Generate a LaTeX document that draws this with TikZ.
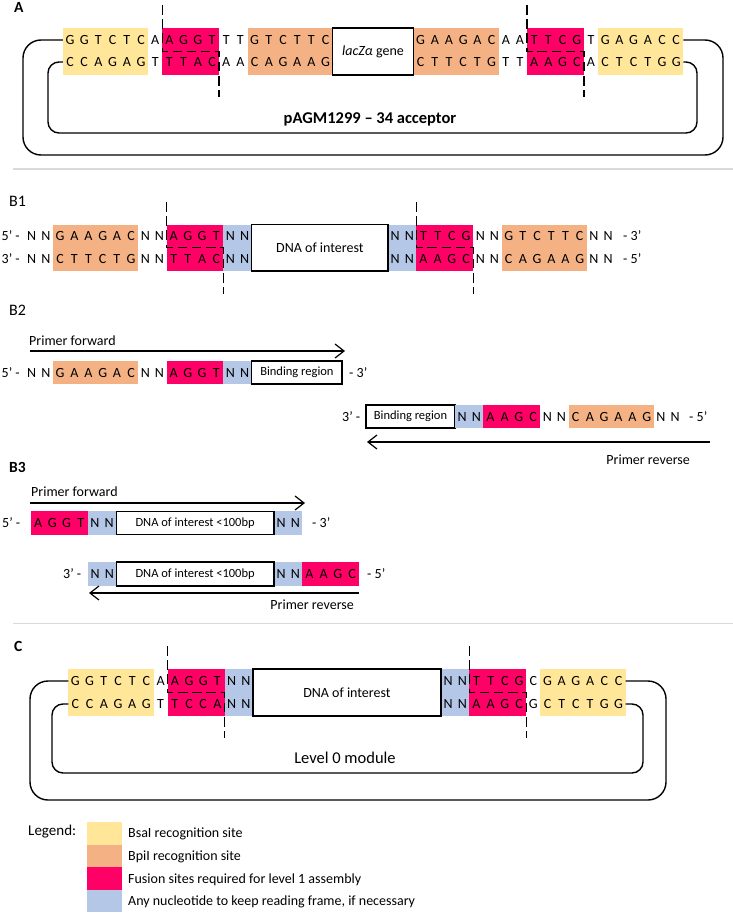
\documentclass[tikz,border=0pt]{standalone}
\usepackage{fontspec}
\setmainfont{Carlito}
\usetikzlibrary{arrows.meta}
\definecolor{yel}{HTML}{FFE699}
\definecolor{org}{HTML}{F4B183}
\definecolor{pnk}{HTML}{FF0066}
\definecolor{blu}{HTML}{B4C7E7}
\definecolor{sepgray}{HTML}{D9D9D9}
\newcommand\dnaP{14.2}
\newcommand\nucs[4]{%
  \foreach \nuc [count=\idx from 0] in {#4} {
    \node[nt] (#1\idx) at ({#2+\idx*\dnaP},#3) {\nuc};
  }}
\newcommand\cells[6]{%
  \fill[#1] ({#2+(#3-0.5)*\dnaP},#5) rectangle ({#2+(#4+0.5)*\dnaP},#6);}
\begin{document}
\begin{tikzpicture}[x=1pt,y=-1pt,
  nt/.style={inner sep=0pt,text height=9pt,text depth=0pt,font=\fontsize{14}{16}\selectfont},
  lbl/.style={nt,anchor=west},
  sec/.style={inner sep=0pt,anchor=west,text height=10.3pt,text depth=0pt,font=\fontsize{16}{18}\selectfont},
  secb/.style={sec,font=\bfseries\fontsize{15.5}{18}\selectfont},
  dnabox/.style={draw,line width=1.3pt,fill=white,inner sep=0pt,font=\fontsize{14}{16}\selectfont},
  smallbox/.style={dnabox,font=\fontsize{12.5}{14}\selectfont},
  cut/.style={line width=1.3pt,dash pattern=on 9.5pt off 4.7pt},
  loopline/.style={line width=1.4pt},
  parrow/.style={line width=1.2pt,-{Straight Barb[length=9pt,width=14pt]}},
  sep/.style={line width=1.8pt,color=sepgray},
  swatch/.style={inner sep=0pt,minimum width=35pt,minimum height=22.5pt},
  legtxt/.style={lbl},
]
\useasboundingbox (0,0) rectangle (733,913);

% ================= A =================
\node[secb] (labA) at (14,7.5) {A};
\cells{yel}{70}{0}{5}{28}{75}
\cells{pnk}{70}{7}{10}{28}{75}
\cells{org}{70}{13}{18}{28}{75}
\cells{org}{420.6}{0}{5}{28}{75}
\cells{pnk}{420.6}{8}{11}{28}{75}
\cells{yel}{420.6}{13}{18}{28}{75}
\node[dnabox,minimum width=81pt,minimum height=47pt] (lacz) at (373,51.5) {\textit{lacZα} gene};
\nucs{At}{70}{40}{G,G,T,C,T,C,A,A,G,G,T,T,T,G,T,C,T,T,C}
\nucs{Ab}{70}{62}{C,C,A,G,A,G,T,T,T,A,C,A,A,C,A,G,A,A,G}
\nucs{Art}{420.6}{40}{G,A,A,G,A,C,A,A,T,T,C,G,T,G,A,G,A,C,C}
\nucs{Arb}{420.6}{62}{C,T,T,C,T,G,T,T,A,A,G,C,A,C,T,C,T,G,G}
\draw[cut] (162.2,5) -- (162.2,51.5) -- (218.9,51.5) -- (218.9,97);
\draw[cut] (527.1,5) -- (527.1,51.5) -- (583.9,51.5) -- (583.9,97);
\coordinate (AoL) at (62.9,40); \coordinate (AoR) at (683.3,40);
\coordinate (AiL) at (62.9,62); \coordinate (AiR) at (683.3,62);
\draw[loopline,rounded corners=18pt] (AoL) -- (23,40) -- (23,155) -- (723,155) -- (723,40) -- (AoR);
\draw[loopline,rounded corners=11pt] (AiL) -- (48,62) -- (48,133) -- (697,133) -- (697,62) -- (AiR);
\node[font=\bfseries\fontsize{16.5}{19}\selectfont,inner sep=0pt,text height=10.6pt,text depth=0pt] (titleA) at (370,118) {pAGM1299 – 34 acceptor};
\draw[sep] (13,169) -- (733,169);

% ================= B1 =================
\node[sec] (labB1) at (9,201) {B1};
\cells{org}{31.7}{2}{7}{224.5}{271}
\cells{pnk}{31.7}{10}{13}{224.5}{271}
\cells{blu}{31.7}{14}{15}{224.5}{271}
\cells{blu}{395.1}{0}{1}{224.5}{271}
\cells{pnk}{395.1}{2}{5}{224.5}{271}
\cells{org}{395.1}{8}{13}{224.5}{271}
\node[dnabox,minimum width=136.2pt,minimum height=46.5pt] (doiB1) at (319.9,247.75) {DNA of interest};
\nucs{Bt}{31.7}{236}{N,N,G,A,A,G,A,C,N,N,A,G,G,T,N,N}
\nucs{Bb}{31.7}{259}{N,N,C,T,T,C,T,G,N,N,T,T,A,C,N,N}
\nucs{Brt}{395.1}{236}{N,N,T,T,C,G,N,N,G,T,C,T,T,C,N,N}
\nucs{Brb}{395.1}{259}{N,N,A,A,G,C,N,N,C,A,G,A,A,G,N,N}
\node[lbl] (B1a) at (1.5,236) {5’ -};
\node[lbl] (B1b) at (1.5,259) {3’ -};
\node[lbl] (B1c) at (623,236) {- 3’};
\node[lbl] (B1d) at (623,259) {- 5’};
\draw[cut] (166.6,202) -- (166.6,247.75) -- (223.4,247.75) -- (223.4,294);
\draw[cut] (416.4,202) -- (416.4,247.75) -- (473.2,247.75) -- (473.2,294);

% ================= B2 =================
\node[sec] (labB2) at (9,310) {B2};
\node[lbl] (pf2) at (29,341) {Primer forward};
\coordinate (pf2s) at (30,351); \coordinate (pf2e) at (345,351);
\draw[parrow] (pf2s) -- (pf2e);
\cells{org}{31.7}{2}{7}{361}{384}
\cells{pnk}{31.7}{10}{13}{361}{384}
\cells{blu}{31.7}{14}{15}{361}{384}
\node[smallbox,minimum width=90.2pt,minimum height=23pt] (bind1) at (296.9,372.5) {Binding region};
\nucs{Ct}{31.7}{372.5}{N,N,G,A,A,G,A,C,N,N,A,G,G,T,N,N}
\node[lbl] (B2a) at (1.5,372.5) {5’ -};
\node[lbl] (B2b) at (349,372.5) {- 3’};
\node[lbl] (B2c) at (342,416.5) {3’ -};
\node[smallbox,minimum width=89pt,minimum height=23pt] (bind2) at (410.5,416.5) {Binding region};
\cells{blu}{462.1}{0}{1}{405}{428}
\cells{pnk}{462.1}{2}{5}{405}{428}
\cells{org}{462.1}{8}{13}{405}{428}
\nucs{Cr}{462.1}{416.5}{N,N,A,A,G,C,N,N,C,A,G,A,A,G,N,N}
\node[lbl] (B2d) at (689,416.5) {- 5’};
\coordinate (pr2s) at (710,442); \coordinate (pr2e) at (367,442);
\draw[parrow] (pr2s) -- (pr2e);
\node[nt,anchor=east] (pr2) at (690,460) {Primer reverse};

% ================= B3 =================
\node[secb] (labB3) at (9,467) {B3};
\node[lbl] (pf3) at (31,492) {Primer forward};
\coordinate (pf3s) at (30,503); \coordinate (pf3e) at (305,503);
\draw[parrow] (pf3s) -- (pf3e);
\cells{pnk}{38.1}{0}{3}{511.25}{534.75}
\cells{blu}{38.1}{4}{5}{511.25}{534.75}
\cells{blu}{281.1}{0}{1}{511.25}{534.75}
\node[smallbox,minimum width=157.8pt,minimum height=23.5pt] (doi3a) at (195.1,523) {DNA of interest <100bp};
\nucs{Dt}{38.1}{523}{A,G,G,T,N,N}
\nucs{Dtr}{281.1}{523}{N,N}
\node[lbl] (B3a) at (2,523) {5’ -};
\node[lbl] (B3b) at (312,523) {- 3’};
\node[lbl] (B3c) at (63,574) {3’ -};
\cells{blu}{95.1}{0}{1}{562}{586}
\cells{blu}{281.1}{0}{1}{562}{586}
\cells{pnk}{281.1}{2}{5}{562}{586}
\node[smallbox,minimum width=157.8pt,minimum height=24pt] (doi3b) at (195.1,574) {DNA of interest <100bp};
\nucs{Db}{95.1}{574}{N,N}
\nucs{Dbr}{281.1}{574}{N,N,A,A,G,C}
\node[lbl] (B3d) at (367,574) {- 5’};
\coordinate (pr3s) at (359,593); \coordinate (pr3e) at (89,593);
\draw[parrow] (pr3s) -- (pr3e);
\node[nt,anchor=east] (pr3) at (354,605) {Primer reverse};
\draw[sep] (13,623.5) -- (733,623.5);

% ================= C =================
\node[secb] (labC) at (14,646) {C};
\cells{yel}{75.4}{0}{5}{669}{716}
\cells{pnk}{75.4}{7}{10}{669}{716}
\cells{blu}{75.4}{11}{12}{669}{716}
\cells{blu}{448.1}{0}{1}{669}{716}
\cells{pnk}{448.1}{2}{5}{669}{716}
\cells{yel}{448.1}{7}{12}{669}{716}
\node[dnabox,minimum width=188.1pt,minimum height=47pt] (doiC) at (346.95,692.5) {DNA of interest};
\nucs{Et}{75.4}{681}{G,G,T,C,T,C,A,A,G,G,T,N,N}
\nucs{Eb}{75.4}{704}{C,C,A,G,A,G,T,T,C,C,A,N,N}
\nucs{Ert}{448.1}{681}{N,N,T,T,C,G,C,G,A,G,A,C,C}
\nucs{Erb}{448.1}{704}{N,N,A,A,G,C,G,C,T,C,T,G,G}
\draw[cut] (167.7,646) -- (167.7,692.5) -- (224.5,692.5) -- (224.5,738);
\draw[cut] (469.4,646) -- (469.4,692.5) -- (526.2,692.5) -- (526.2,738);
\coordinate (CoL) at (68.3,681); \coordinate (CoR) at (625.6,681);
\coordinate (CiL) at (68.3,704); \coordinate (CiR) at (625.6,704);
\draw[loopline,rounded corners=18pt] (CoL) -- (30,681) -- (30,800) -- (666,800) -- (666,681) -- (CoR);
\draw[loopline,rounded corners=11pt] (CiL) -- (52,704) -- (52,773) -- (643,773) -- (643,704) -- (CiR);
\node[font=\fontsize{16.5}{19}\selectfont,inner sep=0pt,text height=10.6pt,text depth=0pt] (lvl0) at (345,758) {Level 0 module};

% ================= Legend =================
\node[inner sep=0pt,anchor=west,text height=9.7pt,text depth=0pt,font=\fontsize{15}{18}\selectfont] (legend) at (28,831) {Legend:};
\node[swatch,fill=yel] (swY) at (104.5,833.25) {};
\node[swatch,fill=org] (swO) at (104.5,855.75) {};
\node[swatch,fill=pnk] (swP) at (104.5,878.25) {};
\node[swatch,fill=blu] (swB) at (104.5,900.75) {};
\node[legtxt] (lgY) at (128,833.3) {BsaI recognition site};
\node[legtxt] (lgO) at (128,856.2) {BpiI recognition site};
\node[legtxt] (lgP) at (128,878.7) {Fusion sites required for level 1 assembly};
\node[legtxt] (lgB) at (128,901.3) {Any nucleotide to keep reading frame, if necessary};
\end{tikzpicture}
\end{document}
